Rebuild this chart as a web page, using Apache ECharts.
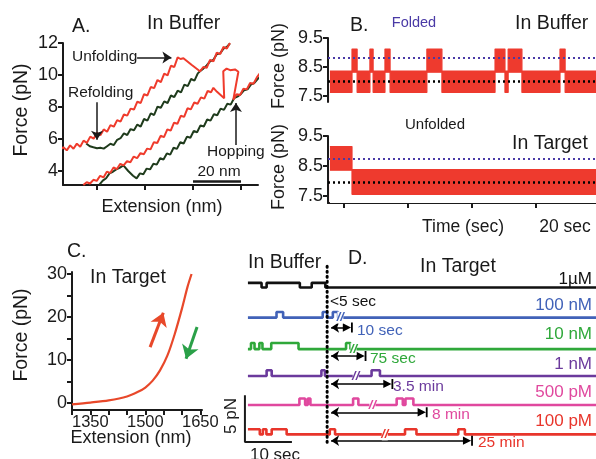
<!DOCTYPE html>
<html>
<head>
<meta charset="utf-8">
<script src="https://cdn.jsdelivr.net/npm/echarts@6/dist/echarts.min.js"></script>
<style>
html, body { margin: 0; padding: 0; background: #fff; }
#chart { width: 596px; height: 459px; }
</style>
</head>
<body>
<div id="chart"></div>
<script>
// ---- panel A: pulling / relaxing traces (extension nm, force pN) ----
var aRedUpX = [-15.4,-14.0,-12.6,-11.2,-9.8,-8.4,-7.0,-5.6,-4.2,-2.8,-1.4,0,1.4,2.8,4.2,5.6,7.0,8.4,9.8,11.2,12.6,14.0,15.4,16.8,18.2,19.6,21.0,22.4,23.8,25.2,26.6,28.0,29.4,30.8,32.2,33.6,34.8,36.0,39.5,42.9,44.3,45.7,47.1,48.5,49.9,51.3,52.7,54.1,55.4];
var aRedUpY = [5.31,5.49,5.29,5.60,5.39,5.71,5.51,5.90,5.76,6.15,6.02,6.39,6.23,6.60,6.45,6.87,6.77,7.18,7.09,7.53,7.46,7.90,7.84,8.33,8.25,8.80,8.72,9.25,9.18,9.69,9.55,10.09,9.98,10.58,10.50,11.10,11.00,11.05,10.62,10.23,10.50,10.45,10.95,10.85,11.40,11.30,11.75,11.65,12.0];
var aGreenUpX = [-4.5,-3.0,-1.5,0,1.4,2.8,4.2,5.6,7.0,8.4,9.8,11.2,12.6,14.0,15.4,16.8,18.2,19.6,21.0,22.4,23.8,25.2,26.6,28.0,29.4,30.8,32.2,33.6,35.0,36.4,37.8,39.2,40.6,42.0,42.9,44.3,45.7,47.1,48.5,49.9,51.3,52.7,54.1,55.4];
var aGreenUpY = [5.72,5.55,5.48,5.42,5.45,5.40,5.55,5.70,5.62,5.95,6.05,6.35,6.25,6.62,6.55,6.90,6.78,7.25,7.15,7.60,7.50,8.02,7.95,8.35,8.25,8.72,8.62,9.02,8.92,9.40,9.30,9.75,9.65,10.10,10.23,10.40,10.60,10.85,10.95,11.30,11.35,11.65,11.75,11.98];
var aRedLoX = [-5.7,-4.3,-2.9,-1.5,-0.1,1.3,2.7,4.1,5.5,6.9,8.3,9.7,11.1,12.5,13.9,15.3,16.7,18.1,19.5,20.9,22.3,23.7,25.1,26.5,27.9,29.3,30.7,32.1,33.5,34.9,36.3,37.7,39.1,40.5,41.9,43.3,44.7,46.1,47.5,48.5,50.0,51.5,53.0,52.6,54.0,55.5,57.5,58.9,56.8,58.2,59.6,61.0,62.4,63.8,65.2,66.6,68.6];
var aRedLoY = [3.12,3.30,3.22,3.45,3.38,3.70,3.60,3.95,3.88,4.22,4.12,4.45,4.35,4.62,4.55,4.90,4.80,5.12,5.05,5.40,5.35,5.80,5.75,6.20,6.12,6.60,6.52,7.02,6.95,7.45,7.38,7.92,7.85,8.28,8.20,8.60,8.52,9.00,8.92,9.20,8.95,8.75,8.55,10.23,10.40,10.30,10.35,10.20,8.46,8.80,8.75,9.15,9.10,9.50,9.45,9.85,10.25];
var aGreenLoX = [1.0,2.4,3.8,5.2,6.6,8.0,9.4,11.0,13.0,15.0,16.5,17.9,19.3,20.7,22.1,23.5,24.9,26.3,27.7,29.1,30.5,31.9,33.3,34.7,36.1,37.5,38.9,40.3,41.7,43.1,44.5,45.9,47.3,48.7,50.1,51.5,52.9,54.3,55.7,57.1,58.5,59.9,61.3,62.7,64.1,65.5,66.9,68.6];
var aGreenLoY = [3.15,3.40,3.55,3.85,3.95,4.10,4.20,4.35,4.00,3.70,3.54,3.85,3.80,4.15,4.10,4.45,4.40,4.80,4.72,5.10,5.02,5.45,5.38,5.80,5.72,6.15,6.08,6.50,6.42,6.85,6.78,7.22,7.15,7.55,7.48,7.90,7.82,8.20,8.15,8.55,8.65,8.80,9.05,9.10,9.40,9.50,9.75,9.95];
var aForceTicks = [4, 6, 8, 10, 12];
var aExtTicks = [0, 20, 40, 60];

// ---- panel B: force vs time at constant trap position (sec, pN) ----
var bTopT = [0.6, 7.5, 9.1, 13.1, 14.1, 17.8, 19.4, 30.9, 35.6, 52.2, 55.3, 56.3, 60.6, 72.5, 74.1, 84];
var bTopState = [0, 1, 0, 1, 0, 1, 0, 1, 0, 1, 0, 1, 0, 1, 0];   // 1 = folded
var bTopBand = [[7.62, 8.36], [8.32, 9.12]];
var bTopLevels = [8.0, 8.83];                                      // unfolded, folded
var bBotT = [0.6, 7.5, 84];
var bBotState = [1, 0];
var bBotBand = [[7.56, 8.38], [8.36, 9.15]];
var bBotLevels = [7.95, 8.75];
var bForceTicks = [7.5, 8.5, 9.5];
var bTimeTicks = [5, 25, 45, 65];

// ---- panel C: force-extension in target (nm, pN) ----
var cExt = [1300, 1350, 1400, 1450, 1480, 1500, 1520, 1540, 1560, 1580, 1600, 1615, 1626];
var cForce = [-0.3, 0.1, 0.6, 1.5, 2.6, 3.6, 5.2, 7.6, 11.0, 16.0, 22.0, 27.0, 30.0];
var cExtLabels = [1350, 1500, 1650];
var cExtTicks = [1300, 1350, 1400, 1450, 1500, 1550, 1600, 1650];
var cForceLabels = [0, 10, 20, 30];
var cForceTicks = [0, 5, 10, 15, 20, 25, 30];

// ---- panel D: hopping traces in buffer then target (sec, offset pN) ----
var dNames = ['1µM', '100 nM', '10 nM', '1 nM', '500 pM', '100 pM'];
var dDelays = ['<5 sec', '10 sec', '75 sec', '3.5 min', '8 min', '25 min'];
var dColors = ['#111111', '#4162b8', '#2fa83a', '#6b3a9c', '#e0489e', '#e8352b'];
var dT = [
  [0, 3.1, 4.25, 11.8, 14.5, 17.6, 79.1],
  [0, 6.5, 8.0, 17.0, 18.0, 19.3, 20.5, 79.1],
  [0, 0.7, 1.5, 2.6, 3.3, 5.3, 11.5, 22.3, 23.3, 79.1],
  [0, 4.25, 5.4, 16.7, 17.5, 28.1, 30.0, 79.1],
  [0, 11.7, 13.0, 13.6, 14.2, 23.9, 25.1, 33.8, 35.2, 35.8, 37.6, 79.1],
  [0, 2.7, 3.4, 4.2, 5.4, 8.8, 18.6, 19.8, 35.7, 38.3, 47.8, 49.3, 79.1]
];
var dS = [
  [1, 0, 1, 0, 1, 0],
  [0, 1, 0, 1, 0, 1, 0],
  [0, 1, 0, 1, 0, 1, 0, 1, 0],
  [0, 1, 0, 1, 0, 1, 0],
  [0, 1, 0, 1, 0, 1, 0, 1, 0, 1, 0],
  [1, 0, 1, 0, 1, 0, 1, 0, 1, 0, 1, 0]
];
var dLevels = [[16.75, 17.25], [13.55, 14.15], [10.2, 10.85], [7.34, 7.95], [4.26, 4.95], [1.13, 1.67]];
var dBreakT = [null, 21.0, 24.0, 24.5, 28.3, 31.1];
var dArrowEnd = [null, 22.7, 25.8, 31.9, 39.7, 50.0];
var dArrowY = [null, 12.5, 9.47, 6.5, 3.48, 0.46];
var dSwitchT = 18;

var FONT = '"Liberation Sans", Arial, Helvetica, sans-serif';
var INK = '#1a1a1a';

function pairs(xs, ys) {
  return xs.map(function (x, i) { return [x, ys[i]]; });
}
function stepPts(ts, ss, fn) {
  return ts.map(function (t, i) { return [t, fn(ss[Math.min(i, ss.length - 1)])]; });
}

var chart = echarts.init(document.getElementById('chart'));

function axisBase(grid, min, max) {
  return {
    type: 'value', gridIndex: grid, min: min, max: max,
    splitLine: { show: false },
    axisLine: { show: true, onZero: false, lineStyle: { color: INK, width: 2 } },
    axisTick: { show: true, length: 5, lineStyle: { color: INK, width: 2 } },
    axisLabel: { show: false, color: INK, fontSize: 18, fontFamily: FONT, margin: 5,
      formatter: function (v) { return String(v); } }
  };
}
function withTicks(ax, ticks, labels) {
  ax.axisTick.customValues = ticks;
  if (labels) {
    ax.axisLabel.show = true;
    ax.axisLabel.customValues = labels;
  }
  return ax;
}

var xAxes = [
  withTicks(axisBase(0, -14.17, 67.08), aExtTicks),
  (function () { var a = axisBase(1, 0, 83.75); a.show = false; return a; })(),
  withTicks(axisBase(2, 0, 83.75), bTimeTicks),
  withTicks(axisBase(3, 1300, 1654.5), cExtTicks, cExtLabels),
  (function () { var a = axisBase(4, -1.8, 79.1); a.show = false; return a; })()
];
var yAxes = [
  withTicks(axisBase(0, 3.125, 12), aForceTicks, aForceTicks),
  withTicks(axisBase(1, 7.29, 9.5), bForceTicks, bForceTicks),
  withTicks(axisBase(2, 7.27, 9.5), bForceTicks, bForceTicks),
  withTicks(axisBase(3, -1.63, 30.47), cForceTicks, cForceLabels),
  (function () { var a = axisBase(4, 0, 19.68); a.show = false; return a; })()
];
xAxes[3].axisLabel.margin = 4;
xAxes[3].axisLabel.fontSize = 16.5;

var series = [];
var noSym = { symbol: 'none', silent: true, animation: false };
function line(xi, data, color, width, extra) {
  return Object.assign({ type: 'line', xAxisIndex: xi, yAxisIndex: xi, data: data,
    lineStyle: { color: color, width: width }, itemStyle: { color: color } }, noSym, extra || {});
}
// one markLine item: two coords, optional arrow head at the end
function seg(from, to, color, width, endSym, size) {
  return [
    { coord: from, symbol: 'none', lineStyle: { color: color, width: width, type: 'solid' } },
    { coord: to, symbol: endSym || 'none', symbolSize: size || 9 }
  ];
}
function notes(xi, items) {
  return Object.assign({ type: 'line', xAxisIndex: xi, yAxisIndex: xi, data: [], clip: false, z: 5,
    markLine: { silent: true, animation: false, symbol: 'none', label: { show: false }, data: items }
  }, noSym);
}

// panel A
var darkGreen = '#1f3b1c', redA = '#ef3b2c';
series.push(line(0, pairs(aGreenUpX, aGreenUpY), darkGreen, 2));
series.push(line(0, pairs(aGreenLoX, aGreenLoY), darkGreen, 2));
series.push(line(0, pairs(aRedUpX, aRedUpY), redA, 2));
series.push(line(0, pairs(aRedLoX, aRedLoY), redA, 2));
series.push(notes(0, [
  seg([16.7, 11.1], [31.0, 11.1], INK, 1.5, 'arrow', 9),
  seg([0, 8.3], [0, 5.95], INK, 1.5, 'arrow', 9),
  seg([57.9, 5.63], [57.9, 8.25], INK, 1.5, 'arrow', 9),
  seg([40, 3.37], [60, 3.37], INK, 2.5)
]));

// panel B: noise band = red area up to the band top, masked in white below the band bottom
var redB = '#ee3a2e', purple = '#4a3aa6';
function bandSeries(xi, ts, ss, band, levels) {
  var top = stepPts(ts, ss, function (s) { return band[s][1]; });
  var bottom = stepPts(ts, ss, function (s) { return band[s][0]; });
  series.push(line(xi, top, redB, 1.2, { step: 'end', areaStyle: { color: redB, opacity: 1, origin: 'start' } }));
  series.push(line(xi, bottom, redB, 1.2, {
    step: 'end', areaStyle: { color: '#fff', opacity: 1, origin: 'start' },
    markLine: {
      silent: true, animation: false, symbol: 'none', label: { show: false },
      data: [
        { yAxis: levels[1], lineStyle: { color: purple, width: 2, type: [2, 3] } },
        { yAxis: levels[0], lineStyle: { color: '#000', width: 2.5, type: [2, 3] } }
      ]
    }
  }));
}
bandSeries(1, bTopT, bTopState, bTopBand, bTopLevels);
bandSeries(2, bBotT, bBotState, bBotBand, bBotLevels);
series.push(notes(1, [
  seg([26.9, 9.7], [26.9, 8.98], purple, 2, 'arrow', 10),
  seg([32.8, 6.9], [32.8, 7.86], '#000', 2, 'arrow', 10)
]));
series.push(notes(2, [
  seg([64.1, 6.8], [84, 6.8], INK, 2.5)
]));

// panel C
var redC = '#e8482a';
series.push(line(3, pairs(cExt, cForce), redC, 2.2, { smooth: 0.3 }));
series.push(notes(3, [
  seg([1513, 13], [1549, 21], redC, 3, 'arrow', 13),
  seg([1641, 17.7], [1611, 10.3], '#2aa048', 3, 'arrow', 13)
]));

// panel D
var barArrow = 'path://M-6,0 L6,0 L6,2 L-6,2 Z M0,2 L5,11 L-5,11 Z';
dNames.forEach(function (name, k) {
  var lv = dLevels[k];
  var s = line(4, stepPts(dT[k], dS[k], function (st) { return lv[st]; }), dColors[k], 2.6, { step: 'end' });
  if (dBreakT[k] !== null) {
    s.markPoint = {
      silent: true, animation: false, symbol: 'rect', symbolSize: [6, 12],
      itemStyle: { color: '#fff' },
      label: { show: true, formatter: '//', color: dColors[k], fontSize: 13, fontWeight: 'bold',
        fontStyle: 'italic', fontFamily: FONT, position: 'inside' },
      data: [{ coord: [dBreakT[k], lv[0]] }]
    };
    s.markLine = {
      silent: true, animation: false, label: { show: false },
      data: [[
        { coord: [18.9, dArrowY[k]], symbol: 'arrow', symbolSize: 8,
          lineStyle: { color: '#000', width: 1.5, type: 'solid' } },
        { coord: [dArrowEnd[k], dArrowY[k]], symbol: barArrow, symbolSize: [10, 10] }
      ]]
    };
  }
  series.push(s);
});
series.push(line(4, [[dSwitchT, 0.3], [dSwitchT, 19.2]], '#000', 3, { lineStyle: { color: '#000', width: 3, type: [1, 4], cap: 'round' } }));
series.push(line(4, [[-0.68, 5.3], [-0.68, 0.32], [10, 0.32]], INK, 2, { clip: false }));

// text
function txt(s, x, y, o) {
  o = o || {};
  return {
    type: 'text', x: x, y: y, rotation: o.rot || 0, silent: true,
    style: {
      text: s, fill: o.color || INK, fontSize: o.size || 16, fontFamily: FONT,
      align: o.align || 'left', textAlign: o.align || 'left',
      verticalAlign: 'middle', textVerticalAlign: 'middle'
    }
  };
}
var R = Math.PI / 2;
var texts = [
  txt('A.', 72, 27, { size: 19.5 }), txt('In Buffer', 147, 24, { size: 19.5 }),
  txt('Unfolding', 72, 57, { size: 15.5 }), txt('Refolding', 68, 93, { size: 15.5 }),
  txt('Hopping', 207, 152, { size: 15.5 }), txt('20 nm', 219, 172, { size: 15.5, align: 'center' }),
  txt('Extension (nm)', 162, 207, { size: 18 }),
  txt('Force (pN)', 22, 110, { size: 19.5, align: 'center', rot: R }),
  txt('B.', 350, 26, { size: 19.5 }), txt('Folded', 414, 23, { size: 14.5, align: 'center', color: purple }),
  txt('In Buffer', 515, 24, { size: 19.5 }), txt('Unfolded', 435, 125, { size: 15, align: 'center' }),
  txt('In Target', 512, 144, { size: 19.5 }),
  txt('Force (pN)', 279, 66, { size: 18, align: 'center', rot: R }),
  txt('Force (pN)', 279, 167, { size: 18, align: 'center', rot: R }),
  txt('Time (sec)', 463, 227, { size: 17.5, align: 'center' }), txt('20 sec', 565, 227, { size: 17.5, align: 'center' }),
  txt('C.', 67, 252, { size: 19.5 }), txt('In Target', 90, 278, { size: 19.5 }),
  txt('Force (pN)', 22, 335, { size: 19.5, align: 'center', rot: R }),
  txt('Extension (nm)', 131, 438, { size: 18, align: 'center' }),
  txt('In Buffer', 248, 263, { size: 19.5 }), txt('D.', 348, 259, { size: 19.5 }),
  txt('In Target', 420, 267, { size: 19.5 }),
  txt('5 pN', 231, 416, { size: 17, align: 'center', rot: R }),
  txt('10 sec', 275, 455, { size: 17, align: 'center' })
];
texts[6].style.align = texts[6].style.textAlign = 'center';
var nameY = [279, 305, 334, 364, 392, 421];
var delayX = [330, 357, 370, 393, 432, 478];
var delayY = [302, 331, 359, 387, 415, 443];
dNames.forEach(function (n, k) {
  texts.push(txt(n, 592, nameY[k], { size: 17, align: 'right', color: dColors[k] }));
  texts.push(txt(dDelays[k], delayX[k], delayY[k], { size: 15.5, color: dColors[k] }));
});

chart.setOption({
  animation: false,
  backgroundColor: '#fff',
  grid: [
    { left: 63, top: 43, width: 195, height: 142, containLabel: false, outerBoundsMode: 'none' },
    { left: 328, top: 38, width: 268, height: 64, containLabel: false, outerBoundsMode: 'none' },
    { left: 328, top: 136, width: 268, height: 67, containLabel: false, outerBoundsMode: 'none' },
    { left: 72, top: 272, width: 130, height: 138, containLabel: false, outerBoundsMode: 'none' },
    { left: 240, top: 260, width: 356, height: 185, containLabel: false, outerBoundsMode: 'none' }
  ],
  xAxis: xAxes,
  yAxis: yAxes,
  series: series,
  graphic: texts
});
</script>
</body>
</html>
